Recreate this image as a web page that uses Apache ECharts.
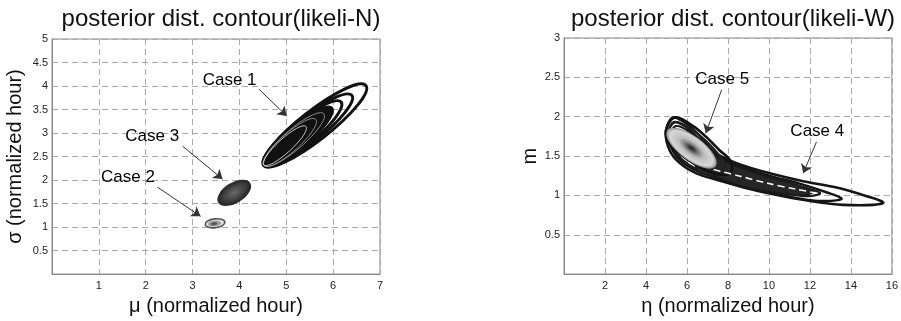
<!DOCTYPE html>
<html>
<head>
<meta charset="utf-8">
<script src="https://cdn.jsdelivr.net/npm/echarts@6/dist/echarts.min.js"></script>
<style>
  html, body { margin: 0; padding: 0; background: #fff; }
  #chart { width: 901px; height: 321px; }
</style>
</head>
<body>
<div id="chart"></div>
<script>
// ---- values ----
// likeli-N panel: contour ellipses as [cx, cy, majorEndX, majorEndY, minorEndX, minorEndY] (data units)
const case1Rings = [
  [5.61, 3.16, 6.70, 4.01, 5.81, 2.92],
  [5.46, 3.06, 6.40, 3.80, 5.64, 2.85],
  [5.35, 2.99, 6.17, 3.66, 5.51, 2.79],
  [5.25, 2.92, 5.97, 3.53, 5.40, 2.75],
  [5.16, 2.86, 5.80, 3.41, 5.30, 2.70],
  [5.08, 2.80, 5.63, 3.29, 5.20, 2.65],
  [4.97, 2.73, 5.42, 3.14, 5.07, 2.62]
];
const case3Rings = [
  [3.89, 1.73, 4.23, 1.94, 4.01, 1.55]
];
const case2Rings = [
  [3.48, 1.08, 3.69, 1.105, 3.48, 0.985],
  [3.47, 1.075, 3.60, 1.09, 3.47, 1.02],
  [3.46, 1.07, 3.52, 1.077, 3.46, 1.045]
];

// likeli-W panel: contour outlines as [eta, m] points
const case4Outer = [[4.97,1.80],[5.29,1.99],[5.81,1.94],[6.46,1.80],[6.95,1.65],[7.44,1.53],[8.42,1.41],[10.04,1.28],[11.67,1.18],[13.3,1.10],[14.77,0.99],[15.58,0.91],[15.09,0.88],[13.62,0.88],[12.49,0.91],[10.69,0.99],[9.07,1.08],[7.44,1.20],[6.46,1.28],[5.65,1.41],[5.16,1.57]];
const case4Mid = [[5.1,1.80],[5.35,1.93],[5.9,1.88],[6.5,1.74],[7.5,1.50],[8.5,1.38],[10,1.25],[11.5,1.15],[12.8,1.04],[13.55,0.96],[13.0,0.93],[12,0.94],[10.5,1.01],[9,1.10],[7.5,1.22],[6.5,1.31],[5.7,1.44],[5.25,1.6]];
const case4Inner = [[5.2,1.78],[5.45,1.88],[6.0,1.83],[6.6,1.69],[7.5,1.48],[8.5,1.36],[10,1.23],[11.5,1.12],[12.5,1.03],[11.9,0.99],[10.5,1.04],[9,1.12],[7.5,1.24],[6.5,1.33],[5.75,1.46],[5.35,1.6]];
const case4Core = [[6.5,1.67],[7.5,1.48],[8.5,1.36],[10,1.23],[11.5,1.12],[12.2,1.05],[11.6,1.0],[10,1.05],[8.5,1.13],[7.5,1.23],[6.5,1.32]];
const case4Ridge = [[7.3,1.33],[8.5,1.25],[10,1.15],[11.3,1.08],[12.3,1.03]];
const case5Outer = [[4.97,1.82],[5.41,1.99],[6.30,1.88],[6.95,1.74],[7.60,1.57],[8.09,1.45],[8.17,1.30],[7.76,1.26],[7.11,1.30],[6.30,1.41],[5.65,1.53],[5.16,1.65]];
const case5Mid = [[5.1,1.82],[5.45,1.93],[6.2,1.84],[6.9,1.7],[7.45,1.55],[7.8,1.42],[7.8,1.34],[7.4,1.33],[6.8,1.38],[6.2,1.46],[5.6,1.56],[5.2,1.68]];
const case5Rings = [
  [6.22, 1.60, 7.40, 1.37, 6.58, 1.72]
];

// annotations: [x, y, text] and arrows [fromX, fromY, toX, toY]
const labelsN = [[3.79, 4.12, 'Case 1'], [2.14, 2.94, 'Case 3'], [1.62, 2.05, 'Case 2']];
const arrowsN = [[4.42, 3.93, 5.01, 3.36], [2.79, 2.72, 3.64, 2.02], [2.25, 1.85, 3.17, 1.23]];
const labelsW = [[7.72, 2.48, 'Case 5'], [12.36, 1.81, 'Case 4']];
const arrowsW = [[7.69, 2.34, 6.92, 1.79], [12.32, 1.68, 11.67, 1.28]];

// ---- chart ----
const FONT = '"Liberation Sans", Arial, Helvetica, sans-serif';
const chart = echarts.init(document.getElementById('chart'));

function dist(a, b) {
  return Math.sqrt((a[0] - b[0]) * (a[0] - b[0]) + (a[1] - b[1]) * (a[1] - b[1]));
}

// ellipse through library coords: centre, end of major axis, end of minor axis.
// shaded ones are a circle squashed by scaleY so the radial fill follows the ellipse
function ellipseSeries(xi, data, styleFn, shaded) {
  return {
    type: 'custom',
    xAxisIndex: xi, yAxisIndex: xi,
    silent: true,
    data: data,
    renderItem: function (params, api) {
      const c = api.coord([api.value(0), api.value(1)]);
      const e = api.coord([api.value(2), api.value(3)]);
      const m = api.coord([api.value(4), api.value(5)]);
      const a = dist(c, e);
      const b = dist(c, m);
      const rot = Math.atan2(-(e[1] - c[1]), e[0] - c[0]);
      if (shaded) {
        return {
          type: 'circle', x: c[0], y: c[1], scaleX: 1, scaleY: b / a, rotation: rot,
          shape: { cx: 0, cy: 0, r: a },
          style: styleFn(params.dataIndex)
        };
      }
      return {
        type: 'ellipse', x: c[0], y: c[1], rotation: rot,
        shape: { cx: 0, cy: 0, rx: a, ry: b },
        style: styleFn(params.dataIndex)
      };
    }
  };
}

const outlinesW = [case4Outer, case4Mid, case4Inner, case4Core, case5Outer, case5Mid];
const outlineStyles = [
  { fill: 'none', stroke: '#151515', lineWidth: 2.6 },
  { fill: 'none', stroke: '#151515', lineWidth: 2.4 },
  { fill: 'none', stroke: '#1a1a1a', lineWidth: 2.2 },
  { fill: '#262626', stroke: '#1a1a1a', lineWidth: 1.5 },
  { fill: 'none', stroke: '#111', lineWidth: 2.6 },
  { fill: 'none', stroke: '#222', lineWidth: 2.2 }
];

function annotations(xi, labels, arrows) {
  return {
    type: 'scatter',
    xAxisIndex: xi, yAxisIndex: xi,
    silent: true,
    symbolSize: 0,
    itemStyle: { color: '#222', opacity: 1 },
    data: labels,
    label: {
      show: true, position: 'inside',
      formatter: p => p.data[2],
      color: '#000', fontSize: 17, fontFamily: FONT
    },
    markLine: {
      silent: true,
      symbol: ['none', 'arrow'],
      symbolSize: [9, 9],
      lineStyle: { color: '#333', width: 1, type: 'solid', opacity: 1 },
      label: { show: false },
      data: arrows.map(a => [{ coord: [a[0], a[1]] }, { coord: [a[2], a[3]] }])
    }
  };
}

function xAxisCfg(gi, max, interval, name) {
  return {
    gridIndex: gi, type: 'value', min: 0, max: max, interval: interval,
    name: name, nameLocation: 'middle', nameGap: 15,
    nameTextStyle: { fontSize: 20, color: '#111', fontFamily: FONT },
    axisLine: { show: true, lineStyle: { color: '#888' } },
    axisTick: { show: false },
    axisLabel: { showMinLabel: false, margin: 6, fontSize: 11, color: '#222', fontFamily: FONT },
    splitLine: { show: true, lineStyle: { color: '#aaa', type: [6, 4] } }
  };
}
function yAxisCfg(gi, max, name, gap) {
  return {
    gridIndex: gi, type: 'value', min: 0, max: max, interval: 0.5,
    name: name, nameLocation: 'middle', nameGap: gap,
    nameTextStyle: { fontSize: 20, color: '#111', fontFamily: FONT },
    axisLine: { show: true, lineStyle: { color: '#888' } },
    axisTick: { show: false },
    axisLabel: { showMinLabel: false, margin: 4, fontSize: 11, color: '#222', fontFamily: FONT },
    splitLine: { show: true, lineStyle: { color: '#aaa', type: [6, 4] } }
  };
}

chart.setOption({
  animation: false,
  backgroundColor: '#fff',
  title: [
    { text: 'posterior dist. contour(likeli-N)', left: 216, top: 2, textAlign: 'center',
      textStyle: { fontSize: 24, fontWeight: 'normal', color: '#111', fontFamily: FONT } },
    { text: 'posterior dist. contour(likeli-W)', left: 728, top: 2, textAlign: 'center',
      textStyle: { fontSize: 24, fontWeight: 'normal', color: '#111', fontFamily: FONT } }
  ],
  grid: [
    { left: 52, top: 39, width: 328, height: 242, show: true, borderColor: '#888', borderWidth: 1 },
    { left: 564, top: 38, width: 328, height: 242, show: true, borderColor: '#888', borderWidth: 1 }
  ],
  xAxis: [
    xAxisCfg(0, 7, 1, 'μ (normalized hour)'),
    xAxisCfg(1, 16, 2, 'η (normalized hour)')
  ],
  yAxis: [
    yAxisCfg(0, 5, 'σ (normalized hour)', 27),
    yAxisCfg(1, 3, 'm', 24)
  ],
  series: [
    ellipseSeries(0, case1Rings, function (i) {
      if (i < 3) return { fill: 'none', stroke: '#111', lineWidth: 3 };
      if (i === 3) return { fill: '#111', stroke: '#111', lineWidth: 3 };
      return { fill: 'none', stroke: i === 6 ? '#ddd' : '#9a9a9a', lineWidth: 0.8 };
    }, false),
    ellipseSeries(0, case3Rings, function () {
      return {
        fill: { type: 'radial', x: 0.5, y: 0.5, r: 0.5,
          colorStops: [{ offset: 0, color: '#6a6a6a' }, { offset: 0.7, color: '#3a3a3a' }, { offset: 1, color: '#222' }] },
        stroke: 'none'
      };
    }, true),
    ellipseSeries(0, case2Rings, function (i) {
      return [
        { fill: '#e2e2e2', stroke: '#555', lineWidth: 1.6 },
        { fill: '#9a9a9a', stroke: '#888', lineWidth: 0.5 },
        { fill: '#555', stroke: '#555', lineWidth: 0.5 }
      ][i];
    }, false),
    annotations(0, labelsN, arrowsN),

    {
      type: 'custom',
      xAxisIndex: 1, yAxisIndex: 1,
      silent: true,
      data: outlinesW.map((o, i) => [i, 0]),
      renderItem: function (params, api) {
        const pts = outlinesW[params.dataIndex].map(p => api.coord(p));
        return { type: 'polygon', shape: { points: pts, smooth: 0.35 }, style: outlineStyles[params.dataIndex] };
      }
    },
    {
      type: 'custom',
      xAxisIndex: 1, yAxisIndex: 1,
      silent: true,
      data: [[0, 0]],
      renderItem: function (params, api) {
        const pts = case4Ridge.map(p => api.coord(p));
        return { type: 'polyline', shape: { points: pts, smooth: 0.3 },
          style: { fill: 'none', stroke: '#f4f4f4', lineWidth: 1.6, lineDash: [7, 4] } };
      }
    },
    ellipseSeries(1, case5Rings, function () {
      return {
        fill: { type: 'radial', x: 0.5, y: 0.5, r: 0.5,
          colorStops: [
            { offset: 0, color: '#202020' }, { offset: 0.12, color: '#444' },
            { offset: 0.3, color: '#888' }, { offset: 0.5, color: '#bdbdbd' },
            { offset: 0.85, color: '#d8d8d8' }, { offset: 1, color: '#8a8a8a' }] },
        stroke: 'none'
      };
    }, true),
    annotations(1, labelsW, arrowsW)
  ]
});
</script>
</body>
</html>
